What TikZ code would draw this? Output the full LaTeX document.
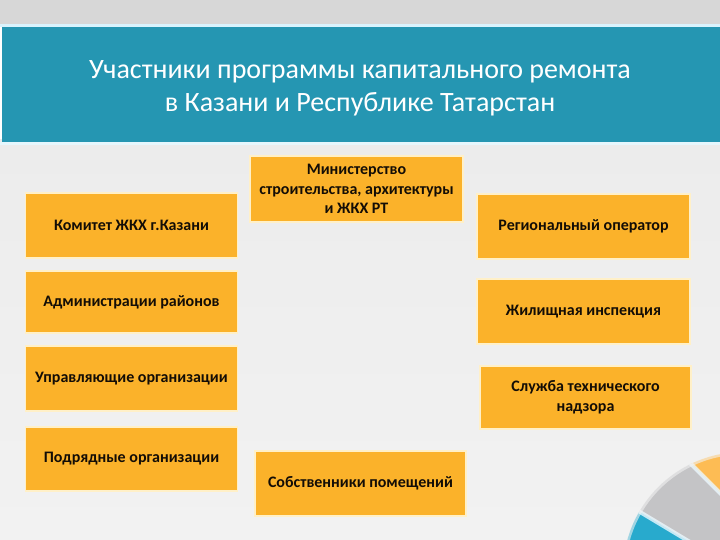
\documentclass[tikz,border=0pt]{standalone}
\usepackage{fontspec}
\setmainfont{Carlito}
\definecolor{bandteal}{RGB}{37,150,178}
\definecolor{boxorange}{RGB}{251,178,42}
\definecolor{boxedge}{RGB}{255,240,200}
\definecolor{topgray}{RGB}{215,215,215}
\definecolor{bggray}{RGB}{236,236,236}
\definecolor{bglight}{RGB}{242,242,242}
\definecolor{piegray}{RGB}{196,196,198}
\definecolor{pieorange}{RGB}{253,188,84}
\definecolor{pieteal}{RGB}{40,170,205}
\tikzset{
  orgbox/.style={draw=boxedge, line width=1.2pt, fill=boxorange, align=center,
    inner sep=2pt, font=\bfseries\fontsize{16}{19.5}\selectfont, text=black!90!brown},
  titletext/.style={text=white, align=center, font=\fontsize{28}{33}\selectfont}
}
\begin{document}
\begin{tikzpicture}[x=1pt,y=-1pt]
\useasboundingbox (0,0) rectangle (720,540);
% background
\shade[top color=bggray, bottom color=bglight] (0,140) rectangle (720,540);
\fill[topgray] (0,0) rectangle (720,26);
% decorative disc, bottom right
\begin{scope}
\clip (0,0) rectangle (720,540);
\clip (743,572) circle[radius=120];
\fill[pieorange] (600,373) -- (800,573) -- (800,300) -- (600,300) -- cycle;
\fill[piegray] (600,373) -- (800,573) -- (800,608) -- (600,488) -- cycle;
\fill[pieteal] (600,488) -- (800,608) -- (800,700) -- (600,700) -- cycle;
\draw[white!92!cyan, line width=4pt, opacity=0.8] (600,373) -- (800,573);
\draw[white!92!cyan, line width=4pt, opacity=0.8] (600,488) -- (800,608);
\end{scope}
\draw[bglight, line width=3pt, opacity=0.6] (743,572) circle[radius=119];
% header band
\fill[white!85!cyan] (0,24.5) rectangle (720,27);
\fill[bandteal] (2,27) rectangle (720,142.5);
\fill[white!90!cyan] (0,142.5) rectangle (720,145);
\node[titletext] (title) at (360,88) {Участники программы капитального ремонта\\в Казани и Республике Татарстан};
% boxes
\node[orgbox, minimum width=212pt, minimum height=65pt] (komitet) at (131.5,225.5) {Комитет ЖКХ г.Казани};
\node[orgbox, minimum width=212pt, minimum height=62pt] (admin) at (131.5,302) {Администрации районов};
\node[orgbox, minimum width=212pt, minimum height=65pt] (upr) at (131.5,378.5) {Управляющие организации};
\node[orgbox, minimum width=212pt, minimum height=64pt] (podr) at (131.5,459) {Подрядные организации};
\node[orgbox, minimum width=213pt, minimum height=66pt] (min) at (356.5,189) {Министерство\\строительства, архитектуры\\и ЖКХ РТ};
\node[orgbox, minimum width=211pt, minimum height=65pt] (sobst) at (360.5,483.5) {Собственники помещений};
\node[orgbox, minimum width=213pt, minimum height=65pt] (reg) at (583.5,226.5) {Региональный оператор};
\node[orgbox, minimum width=213pt, minimum height=65pt] (zhil) at (583.5,311.5) {Жилищная инспекция};
\node[orgbox, minimum width=211pt, minimum height=63pt] (tech) at (585.5,397.5) {Служба технического\\надзора};
\end{tikzpicture}
\end{document}
